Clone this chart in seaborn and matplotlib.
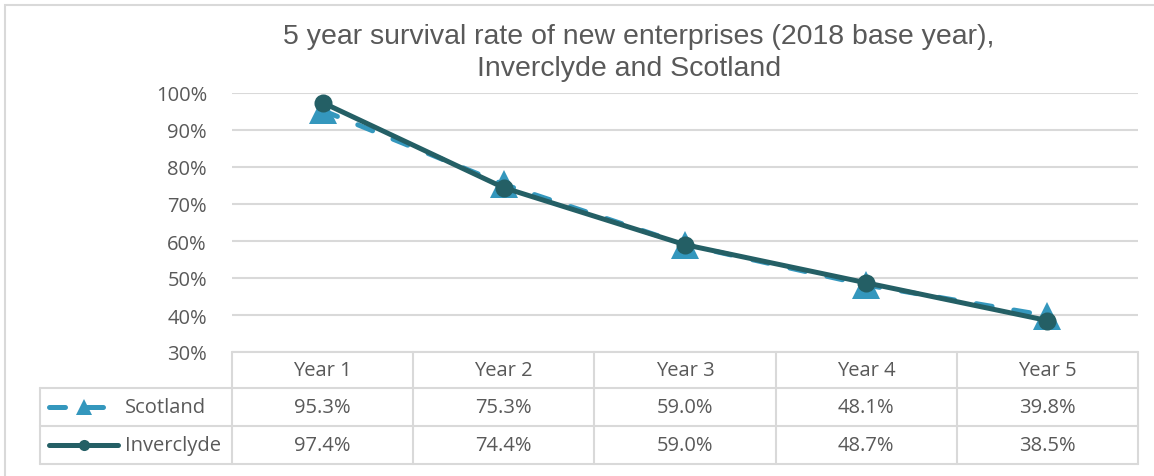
import matplotlib
matplotlib.use("Agg")
import matplotlib.pyplot as plt
from matplotlib.lines import Line2D
from matplotlib.patches import Rectangle
import seaborn as sns
import pandas as pd

years = ["Year 1", "Year 2", "Year 3", "Year 4", "Year 5"]
scotland = [95.3, 75.3, 59.0, 48.1, 39.8]
inverclyde = [97.4, 74.4, 59.0, 48.7, 38.5]
yticks = [30, 40, 50, 60, 70, 80, 90, 100]

SCOT_C = "#3497bd"
INV_C = "#245f65"
GRID_C = "#d9d9d9"
TXT_C = "#595959"
FS = 14.5

W, H = 1154, 477


def px(x):
    return x / W


def py(y):
    return 1 - y / H


sns.set_style("white")
plt.rcParams["font.family"] = ["Open Sans", "DejaVu Sans"]

df = pd.DataFrame({"pos": range(len(years)), "year": years,
                   "Scotland": scotland, "Inverclyde": inverclyde})

fig = plt.figure(figsize=(W / 100, H / 100), dpi=100)
ax = fig.add_axes([px(232), py(353), px(1138) - px(232), py(94) - py(353)])

sns.lineplot(data=df, x="pos", y="Scotland", ax=ax, color=SCOT_C, linewidth=3.6,
             linestyle=(0, (3.2, 4.4)), dash_capstyle="round",
             marker="^", markersize=20, markeredgewidth=0, zorder=3)
sns.lineplot(data=df, x="pos", y="Inverclyde", ax=ax, color=INV_C, linewidth=3.6,
             solid_capstyle="round", marker="o", markersize=13,
             markeredgewidth=0, zorder=4)

ax.set_xlim(-0.5, len(years) - 0.5)
ax.set_ylim(30, 100)
ax.set_yticks(yticks)
ax.set_yticklabels([f"{v}%" for v in yticks], fontsize=FS, color=TXT_C)
ax.tick_params(axis="y", length=0, pad=18)
ax.set_xticks([])
ax.set_xlabel("")
ax.set_ylabel("")
ax.grid(axis="y", color=GRID_C, linewidth=1.5)
ax.set_axisbelow(True)
for s in ax.spines.values():
    s.set_visible(False)

# outer chart border
fig.add_artist(Rectangle((px(5), py(H + 10)), px(W + 10) - px(5), py(6) - py(H + 10),
                         transform=fig.transFigure, fill=False,
                         edgecolor=GRID_C, linewidth=1.5))

fig.text(px(639), py(37), "5 year survival rate of new enterprises (2018 base year),",
         ha="center", va="center", fontsize=20.5, color=TXT_C, family="Liberation Sans")
fig.text(px(629), py(69), "Inverclyde and Scotland",
         ha="center", va="center", fontsize=20.5, color=TXT_C, family="Liberation Sans")

# data table
left_x, x0, x1 = 40, 232, 1138
rows_y = [353, 389, 427, 465]
cw = (x1 - x0) / len(years)


def hline(xa, xb, y):
    fig.add_artist(Line2D([px(xa), px(xb)], [py(y), py(y)], transform=fig.transFigure,
                          color=GRID_C, linewidth=1.5))


def vline(x, ya, yb):
    fig.add_artist(Line2D([px(x), px(x)], [py(ya), py(yb)], transform=fig.transFigure,
                          color=GRID_C, linewidth=1.5))


hline(x0, x1, rows_y[0])
for y in rows_y[1:]:
    hline(left_x, x1, y)
vline(left_x, rows_y[1], rows_y[3])
for i in range(len(years) + 1):
    vline(x0 + i * cw, rows_y[0], rows_y[3])

for i, yr in enumerate(years):
    cx = x0 + (i + 0.5) * cw
    fig.text(px(cx), py((rows_y[0] + rows_y[1]) / 2), yr, ha="center", va="center",
             fontsize=FS, color=TXT_C)
    fig.text(px(cx), py((rows_y[1] + rows_y[2]) / 2), f"{scotland[i]:.1f}%", ha="center",
             va="center", fontsize=FS, color=TXT_C)
    fig.text(px(cx), py((rows_y[2] + rows_y[3]) / 2), f"{inverclyde[i]:.1f}%", ha="center",
             va="center", fontsize=FS, color=TXT_C)

# legend keys inside the table
ys = py((rows_y[1] + rows_y[2]) / 2)
yi = py((rows_y[2] + rows_y[3]) / 2)
fig.add_artist(Line2D([px(49), px(112)], [ys, ys], transform=fig.transFigure,
                      color=SCOT_C, linewidth=3.6, linestyle=(0, (3.2, 4.4)),
                      dash_capstyle="round"))
fig.add_artist(Line2D([px(84)], [ys], transform=fig.transFigure, color=SCOT_C,
                      marker="^", markersize=11, markeredgewidth=0, linestyle="none"))
fig.add_artist(Line2D([px(49), px(118)], [yi, yi], transform=fig.transFigure,
                      color=INV_C, linewidth=3.6, solid_capstyle="round"))
fig.add_artist(Line2D([px(84)], [yi], transform=fig.transFigure, color=INV_C,
                      marker="o", markersize=8, markeredgewidth=0, linestyle="none"))
fig.text(px(125), ys, "Scotland", ha="left", va="center", fontsize=FS, color=TXT_C)
fig.text(px(125), yi, "Inverclyde", ha="left", va="center", fontsize=FS, color=TXT_C)

fig.savefig("out.png", dpi=100, facecolor="white")
